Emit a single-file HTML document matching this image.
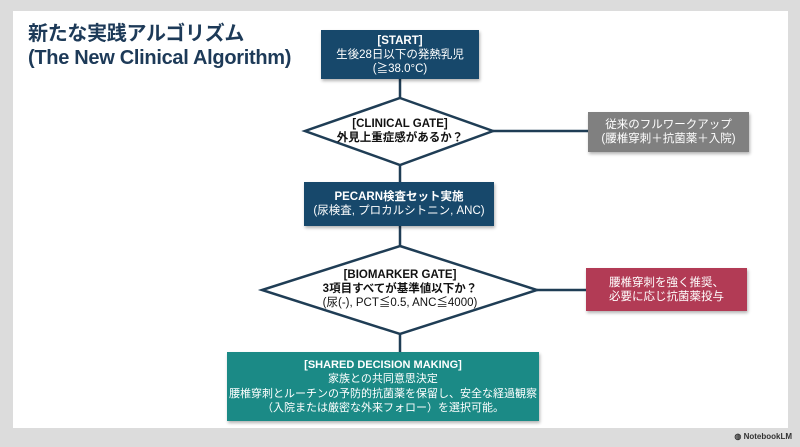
<!DOCTYPE html>
<html><head><meta charset="utf-8"><style>
body{margin:0;width:800px;height:447px;background:#dcdcdc;overflow:hidden;font-family:"Liberation Sans","Noto Sans CJK JP",sans-serif;}
.card{position:absolute;left:13px;top:11px;width:775px;height:417px;background:#fff;}
.t{position:absolute;left:28px;top:22px;font-size:20px;font-weight:bold;color:#1d3a58;line-height:24px;letter-spacing:-0.3px;}
.b{position:absolute;color:#fff;text-align:center;font-size:11.5px;line-height:14px;display:flex;flex-direction:column;justify-content:center;box-shadow:1px 2px 3px rgba(0,0,0,.3);white-space:nowrap;}
.d{position:absolute;text-align:center;font-size:11.5px;line-height:14px;color:#111;}
</style></head><body>
<div class="card"></div>
<div class="t">新たな実践アルゴリズム<br>(The New Clinical Algorithm)</div>
<svg width="800" height="447" style="position:absolute;left:0;top:0">
<g stroke="#1f3d55" stroke-width="2.5" fill="none">
<line x1="400" y1="79" x2="400" y2="98"/>
<line x1="493" y1="131" x2="588" y2="131"/>
<line x1="400" y1="165" x2="400" y2="182"/>
<line x1="400" y1="226" x2="400" y2="246"/>
<line x1="537" y1="290" x2="586" y2="290"/>
<line x1="400" y1="334" x2="400" y2="352"/>
<polygon points="400,98 493,131 400,165 305,131" fill="#fff"/>
<polygon points="400,246 537,290 400,334 262,290" fill="#fff"/>
</g></svg>
<div class="b" style="left:321px;top:30px;width:158px;height:49px;background:#17486b"><b>[START]</b><span>生後28日以下の発熱乳児</span><span>(≧38.0°C)</span></div>
<div class="d" style="left:320px;top:117px;width:160px"><b>[CLINICAL GATE]<br>外見上重症感があるか？</b></div>
<div class="b" style="left:588px;top:112px;width:161px;height:40px;background:#808080">従来のフルワークアップ<br>(腰椎穿刺＋抗菌薬＋入院)</div>
<div class="b" style="left:304px;top:182px;width:190px;height:44px;background:#17486b"><b>PECARN検査セット実施</b><span>(尿検査, プロカルシトニン, ANC)</span></div>
<div class="d" style="left:290px;top:268px;width:220px"><b>[BIOMARKER GATE]<br>3項目すべてが基準値以下か？</b><br>(尿(-), PCT≦0.5, ANC≦4000)</div>
<div class="b" style="left:586px;top:268px;width:161px;height:43px;background:#b23b55">腰椎穿刺を強く推奨、<br>必要に応じ抗菌薬投与</div>
<div class="b" style="left:227px;top:352px;width:312px;height:69px;background:#1b8a86;font-size:11px;line-height:14.5px"><b>[SHARED DECISION MAKING]</b><span>家族との共同意思決定</span><span>腰椎穿刺とルーチンの予防的抗菌薬を保留し、安全な経過観察</span><span>（入院または厳密な外来フォロー）を選択可能。</span></div>
<div style="position:absolute;right:8px;top:432px;font-size:8px;color:#333;font-weight:bold">◍ NotebookLM</div>
</body></html>
